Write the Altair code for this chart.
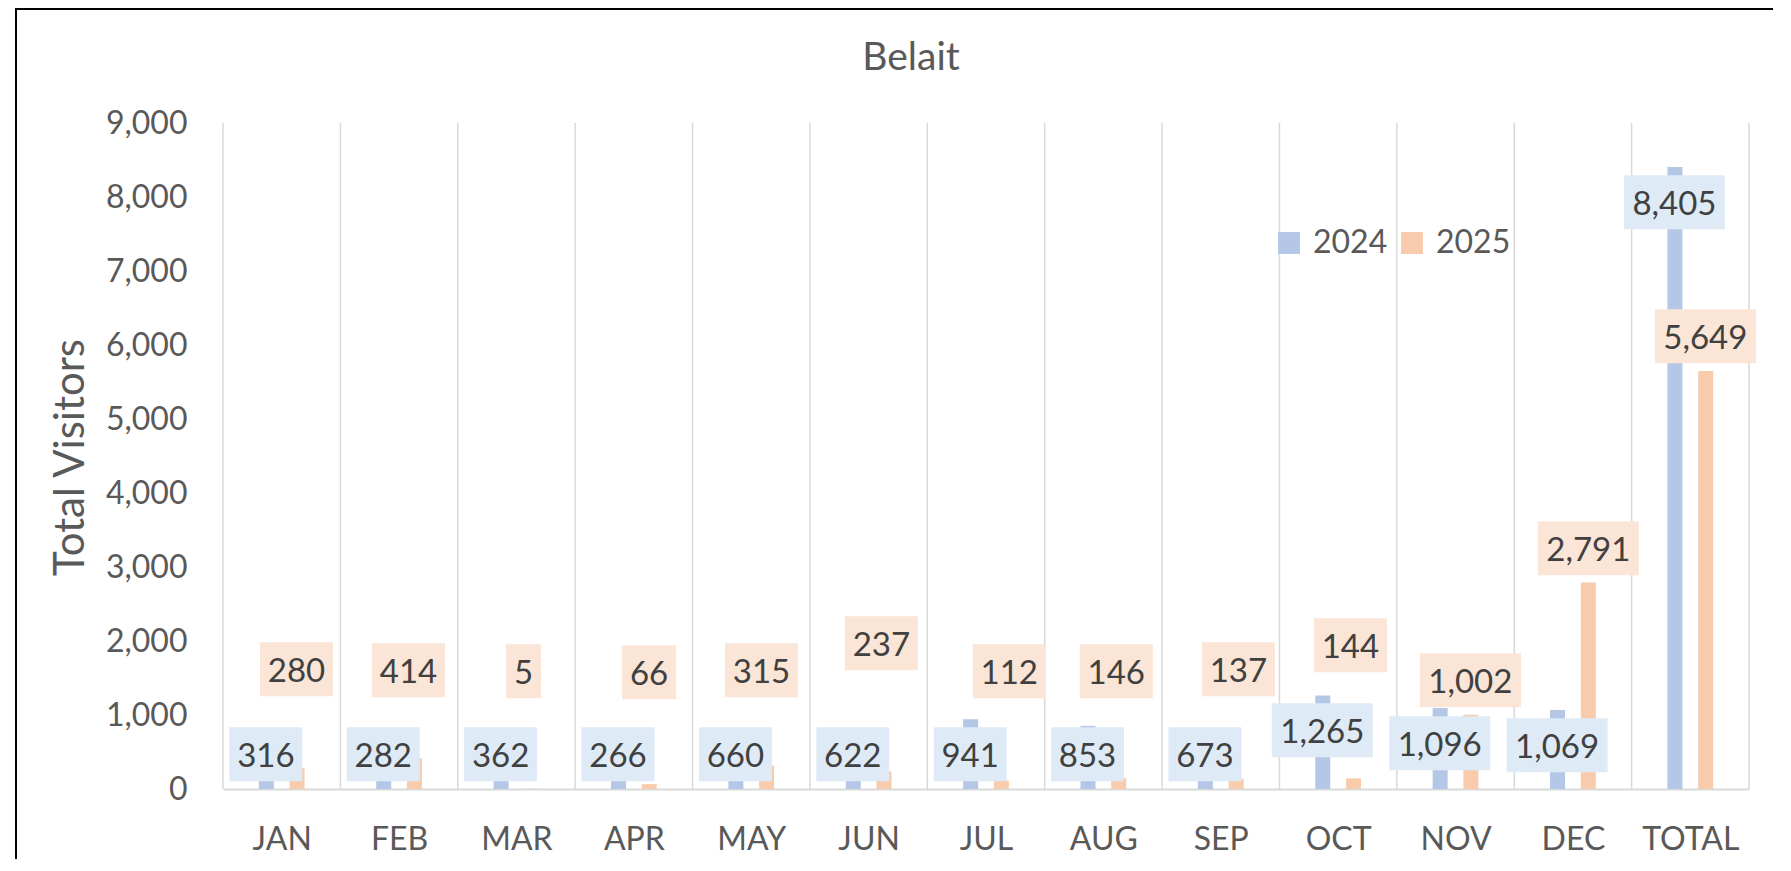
import json
import altair as alt
import pandas as pd

categories = ["JAN", "FEB", "MAR", "APR", "MAY", "JUN", "JUL", "AUG", "SEP", "OCT", "NOV", "DEC", "TOTAL"]
series = ["2024", "2025"]
visitors_2024 = [316, 282, 362, 266, 660, 622, 941, 853, 673, 1265, 1096, 1069, 8405]
visitors_2025 = [280, 414, 5, 66, 315, 237, 112, 146, 137, 144, 1002, 2791, 5649]

# where the data labels sit (value units) and their horizontal shift (fraction of a category)
label_y_2024 = [469, 469, 469, 469, 469, 469, 469, 469, 469, 793, 617, 590, 7928]
label_y_2025 = [1618, 1604, 1591, 1577, 1604, 1969, 1591, 1591, 1618, 1942, 1469, 3253, 6118]
label_dx_2024 = [-0.135] * 13
label_dx_2025 = [0.126, 0.08, 0.06, 0.13, 0.087, 0.109, 0.198, 0.11, 0.15, 0.104, 0.126, 0.131, 0.128]

bar_colors = ["#B4C7E7", "#F8CBAD"]
box_colors = ["#DEEBF7", "#FBE5D6"]
FONT = "Lato"
GREY = "#595959"

PLOT_W, PLOT_H = 1526, 666
Y_MAX = 9000
n = len(categories)
px_cat = PLOT_W / n
px_unit = PLOT_H / Y_MAX
bar_off = {"2024": -0.131, "2025": 0.131}
bar_half = 7.5 / px_cat

rows, lab = [], []
for s, vals, ly, ldx in [("2024", visitors_2024, label_y_2024, label_dx_2024),
                         ("2025", visitors_2025, label_y_2025, label_dx_2025)]:
    for i, v in enumerate(vals):
        c = i + bar_off[s]
        rows.append({"series": s, "cat": categories[i], "value": v, "base": 0,
                     "x0": c - bar_half, "x1": c + bar_half})
        txt = f"{v:,}"
        nd = sum(ch.isdigit() for ch in txt)
        ncm = txt.count(",")
        w = 16 + 19 * nd + 9 * ncm
        cx = i + ldx[i]
        lab.append({"series": s, "text": txt, "cx": cx, "cy": ly[i],
                    "bx0": cx - w / 2 / px_cat, "bx1": cx + w / 2 / px_cat,
                    "by0": ly[i] - 27 / px_unit, "by1": ly[i] + 27 / px_unit})

bars_df = pd.DataFrame(rows)
lab_df = pd.DataFrame(lab)
grid_df = pd.DataFrame({"b": [i - 0.5 for i in range(n + 1)], "lo": 0, "hi": Y_MAX})

xscale = alt.Scale(domain=[-0.5, n - 0.5], nice=False, zero=False)
yscale = alt.Scale(domain=[0, Y_MAX], nice=False)
label_expr = json.dumps(categories) + "[datum.value]"

x_axis = alt.Axis(values=list(range(n)), labelExpr=label_expr, title=None, grid=False,
                  ticks=False, tickSize=0, domain=True, domainColor="#D9D9D9", domainWidth=2,
                  labelFont=FONT, labelFontSize=32, labelColor=GREY, labelPadding=35)
y_axis = alt.Axis(values=list(range(0, Y_MAX + 1, 1000)), format=",.0f", title="Total Visitors",
                  grid=False, ticks=False, tickSize=0, domain=False,
                  labelFont=FONT, labelFontSize=32, labelColor=GREY, labelPadding=36,
                  titleFont=FONT, titleFontSize=42, titleColor=GREY, titleFontWeight="normal",
                  titleX=-153, titleY=334, titleAlign="center", titleBaseline="middle", titleAngle=-90)

border = alt.Chart(pd.DataFrame({"a": [0]})).mark_rect(
    fillOpacity=0, stroke="black", strokeWidth=2
).encode(x=alt.value(-207), x2=alt.value(1800), y=alt.value(-114), y2=alt.value(1000))

grid = alt.Chart(grid_df).mark_rule(color="#D9D9D9", strokeWidth=1.5).encode(
    x=alt.X("b:Q", scale=xscale, axis=x_axis),
    y=alt.Y("lo:Q", scale=yscale, axis=y_axis),
    y2="hi:Q",
)

bars = alt.Chart(bars_df).mark_rect().encode(
    x=alt.X("x0:Q", scale=xscale),
    x2="x1:Q",
    y=alt.Y("value:Q", scale=yscale, stack=None),
    y2="base:Q",
    color=alt.Color("series:N", scale=alt.Scale(domain=series, range=bar_colors),
                    legend=alt.Legend(orient="none", legendX=1050, legendY=104, direction="horizontal",
                                      title=None, symbolType="square", symbolSize=480,
                                      symbolStrokeWidth=0, labelFont=FONT, labelFontSize=32,
                                      labelColor=GREY, labelOffset=8, columnPadding=8, padding=0)),
)

boxes = alt.Chart(lab_df).mark_rect().encode(
    x=alt.X("bx0:Q", scale=xscale),
    x2="bx1:Q",
    y=alt.Y("by0:Q", scale=yscale),
    y2="by1:Q",
    color=alt.Color("series:N", scale=alt.Scale(domain=series, range=box_colors), legend=None),
)

texts = alt.Chart(lab_df).mark_text(
    font=FONT, fontSize=33, color="#404040", baseline="middle", align="center", dy=3
).encode(
    x=alt.X("cx:Q", scale=xscale),
    y=alt.Y("cy:Q", scale=yscale),
    text="text:N",
)

title = alt.Chart(pd.DataFrame({"t": ["Belait"]})).mark_text(
    font=FONT, fontSize=39, color=GREY, baseline="middle", align="center"
).encode(x=alt.value(688), y=alt.value(-65), text="t:N")

chart = alt.layer(border, grid, bars, boxes, texts, title).resolve_scale(color="independent").properties(
    width=PLOT_W, height=PLOT_H,
    autosize=alt.AutoSizeParams(type="none"),
    padding={"left": 215, "top": 115, "right": 24, "bottom": 70},
).configure_view(stroke=None)

chart.save("out.html", embed_options={"renderer": "svg", "actions": False})
